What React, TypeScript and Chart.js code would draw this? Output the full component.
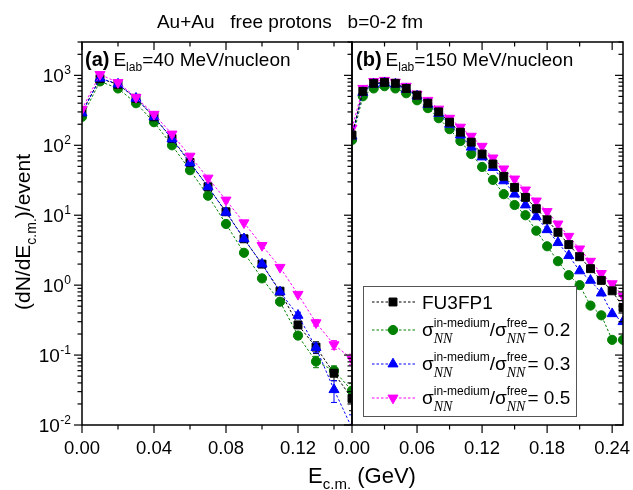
import React, { useEffect, useRef } from 'react';
import { Chart, registerables } from 'chart.js';

Chart.register(...registerables);

const SANS = '"Liberation Sans", Arial, Helvetica, sans-serif';
const SERIF = '"Liberation Serif", "Times New Roman", serif';

// ---------------- data ----------------
const chartTitle = 'Au+Au   free protons   b=0-2 fm';
const seriesLabels = ['FU3FP1', '0.2', '0.3', '0.5'];

// panel (a): E_lab = 40 MeV/nucleon
const energyA = [0.0, 0.01, 0.02, 0.03, 0.04, 0.05, 0.06, 0.07, 0.08, 0.09, 0.1, 0.11, 0.12, 0.13, 0.14, 0.15];
const fu3fp1A = [300, 900, 745, 470, 255, 125, 57, 25.5, 11.2, 4.6, 2.0, 0.82, 0.27, 0.13, 0.055, 0.024];
const ratio02A = [255, 820, 650, 400, 214, 100, 44, 19, 7.5, 2.9, 1.25, 0.58, 0.19, 0.081, 0.06, 0.031];
const ratio03A = [290, 910, 750, 470, 255, 123, 56, 25.5, 11.0, 4.6, 2.0, 0.8, 0.37, 0.128, 0.032, 0.009];
const ratio05A = [328, 1030, 790, 486, 278, 145, 70, 34, 16.5, 7.8, 3.7, 1.8, 0.74, 0.29, 0.141, 0.088];
// statistical error bars (absolute), panel (a)
const fu3fp1ErrA = [0, 0, 0, 0, 0, 0, 0, 0, 0, 0, 0, 0, 0.03, 0.025, 0.012, 0.008];
const ratio02ErrA = [0, 0, 0, 0, 0, 0, 0, 0, 0, 0, 0, 0, 0.02, 0.015, 0.01, 0.008];
const ratio03ErrA = [0, 0, 0, 0, 0, 0, 0, 0, 0, 0, 0, 0, 0.04, 0.02, 0.011, 0.005];
const ratio05ErrA = [0, 0, 0, 0, 0, 0, 0, 0, 0, 0, 0, 0, 0, 0.03, 0.02, 0.015];

// panel (b): E_lab = 150 MeV/nucleon
const energyB = [0.0, 0.01, 0.02, 0.03, 0.04, 0.05, 0.06, 0.07, 0.08, 0.09, 0.1, 0.11, 0.12, 0.13, 0.14, 0.15, 0.16, 0.17, 0.18, 0.19, 0.2, 0.21, 0.22, 0.23, 0.24, 0.25];
const fu3fp1B = [140, 590, 770, 795, 770, 650, 520, 400, 300, 214, 154, 111, 75, 54, 36, 25, 18, 12.4, 8.6, 5.7, 3.8, 2.55, 1.72, 1.17, 0.83, 0.48];
const ratio02B = [119, 502, 650, 700, 650, 555, 440, 340, 244, 170, 115, 75, 49, 32, 20, 14, 10, 6.0, 3.6, 2.2, 1.39, 1.0, 0.51, 0.37, 0.165, 0.165];
const ratio03B = [135, 570, 750, 780, 750, 630, 505, 385, 285, 200, 140, 94, 68, 48, 31, 20, 14, 9.5, 6.2, 4.05, 2.64, 1.6, 1.17, 0.77, 0.39, 0.3];
const ratio05B = [176, 653, 820, 850, 800, 700, 540, 440, 330, 244, 182, 135, 97, 66, 46, 33, 23, 16, 11.3, 7.5, 5.0, 3.3, 2.2, 1.47, 1.05, 0.7];

// axes
const xMaxA = 0.15;
const xMaxB = 0.25;
const yMin = 0.01;
const yMax = 3000;
const xMajorA = [0, 0.04, 0.08, 0.12];
const xLabelsA = ['0.00', '0.04', '0.08', '0.12'];
const xMinorA = [0.02, 0.06, 0.1, 0.14];
const xMajorB = [0, 0.06, 0.12, 0.18, 0.24];
const xLabelsB = ['0.00', '0.06', '0.12', '0.18', '0.24'];
const xMinorB = [0.03, 0.09, 0.15, 0.21];
const yDecades = [-2, -1, 0, 1, 2, 3];
const yExpLabels = ['-2', '-1', '0', '1', '2', '3'];
const yMinorMult = [2, 3, 4, 5, 6, 7, 8, 9];

// ---------------- layout / style ----------------
const W = 633;
const H = 490;
const TOP = 42;
const BOTTOM = 425;
const A_LEFT = 82;
const SPLIT = 352;
const B_RIGHT = 623;

type Sty = { color: string; style: string; r: number; rot: number };
const STY: Sty[] = [
  { color: '#000000', style: 'rect', r: 5.6, rot: 0 },
  { color: '#008000', style: 'circle', r: 4.6, rot: 0 },
  { color: '#0000ff', style: 'triangle', r: 5.8, rot: 0 },
  { color: '#ff00ff', style: 'triangle', r: 5.8, rot: 180 },
];

function line(ctx: CanvasRenderingContext2D, x1: number, y1: number, x2: number, y2: number) {
  ctx.beginPath();
  ctx.moveTo(x1, y1);
  ctx.lineTo(x2, y2);
  ctx.stroke();
}

type Seg = { t: string; font: string; dy?: number } | { sup: { t: string; font: string; dy: number }; sub: { t: string; font: string; dy: number } };

function drawRich(ctx: CanvasRenderingContext2D, x: number, y: number, segs: Seg[], measureOnly = false): number {
  let cx = x;
  for (const s of segs) {
    if ('sup' in s) {
      ctx.font = s.sup.font;
      const w1 = ctx.measureText(s.sup.t).width;
      if (!measureOnly) ctx.fillText(s.sup.t, cx, y + s.sup.dy);
      ctx.font = s.sub.font;
      const w2 = ctx.measureText(s.sub.t).width;
      if (!measureOnly) ctx.fillText(s.sub.t, cx, y + s.sub.dy);
      cx += Math.max(w1, w2);
    } else {
      ctx.font = s.font;
      if (!measureOnly) ctx.fillText(s.t, cx, y + (s.dy || 0));
      cx += ctx.measureText(s.t).width;
    }
  }
  return cx - x;
}

function drawMarker(ctx: CanvasRenderingContext2D, s: Sty, x: number, y: number) {
  ctx.save();
  ctx.setLineDash([]);
  ctx.fillStyle = s.color;
  ctx.strokeStyle = s.color;
  ctx.lineWidth = 1;
  ctx.beginPath();
  if (s.style === 'rect') {
    const h = s.r * Math.SQRT1_2;
    ctx.rect(x - h, y - h, 2 * h, 2 * h);
  } else if (s.style === 'circle') {
    ctx.arc(x, y, s.r, 0, Math.PI * 2);
  } else {
    let a = (s.rot * Math.PI) / 180;
    for (let k = 0; k < 3; k++) {
      const px = x + Math.sin(a) * s.r;
      const py = y - Math.cos(a) * s.r;
      if (k === 0) ctx.moveTo(px, py);
      else ctx.lineTo(px, py);
      a += (2 * Math.PI) / 3;
    }
  }
  ctx.closePath();
  ctx.fill();
  ctx.stroke();
  ctx.restore();
}

function makeDatasets(energies: number[], valueSets: number[][], orders: number[]) {
  return valueSets.map((vals, i) => ({
    label: seriesLabels[i],
    data: energies.map((e, j) => ({ x: e, y: vals[j] })),
    borderColor: STY[i].color,
    backgroundColor: STY[i].color,
    borderWidth: 1,
    borderDash: [2.5, 2],
    pointStyle: STY[i].style,
    pointRadius: STY[i].r,
    pointHoverRadius: STY[i].r,
    pointRotation: STY[i].rot,
    pointBackgroundColor: STY[i].color,
    pointBorderColor: STY[i].color,
    pointBorderWidth: 1,
    showLine: true,
    fill: false,
    tension: 0,
    order: orders[i],
  }));
}

function yTicks(chart: any, side: 'left' | 'right' | 'both') {
  const ctx: CanvasRenderingContext2D = chart.ctx;
  const ys = chart.scales.y;
  const { left, right } = chart.chartArea;
  ctx.lineWidth = 1.2;
  for (const d of yDecades) {
    const vals = [{ v: Math.pow(10, d), len: 8 }].concat(yMinorMult.map((m) => ({ v: m * Math.pow(10, d), len: 4.5 })));
    for (const { v, len } of vals) {
      if (v < yMin * 0.999 || v > yMax * 1.001) continue;
      const py = ys.getPixelForValue(v);
      if (side !== 'right') line(ctx, left, py, left - len, py);
      if (side !== 'left') line(ctx, right, py, right - len, py);
    }
  }
}

function xTicks(chart: any, major: number[], minor: number[], labels: string[]) {
  const ctx: CanvasRenderingContext2D = chart.ctx;
  const xs = chart.scales.x;
  const { top, bottom } = chart.chartArea;
  ctx.lineWidth = 1.2;
  major.forEach((v) => {
    const px = xs.getPixelForValue(v);
    line(ctx, px, bottom, px, bottom + 8);
    line(ctx, px, top, px, top + 8);
  });
  minor.forEach((v) => {
    const px = xs.getPixelForValue(v);
    line(ctx, px, bottom, px, bottom + 4.5);
    line(ctx, px, top, px, top + 4.5);
  });
  ctx.font = `18.5px ${SANS}`;
  ctx.textAlign = 'center';
  ctx.textBaseline = 'alphabetic';
  major.forEach((v, i) => {
    const px = xs.getPixelForValue(v);
    ctx.fillText(labels[i], px, 454);
  });
  ctx.textAlign = 'left';
}

function panelLabel(ctx: CanvasRenderingContext2D, x: number, tag: string, energy: string) {
  ctx.fillStyle = '#000';
  ctx.textAlign = 'left';
  ctx.textBaseline = 'alphabetic';
  ctx.font = `bold 20px ${SANS}`;
  ctx.fillText(tag, x, 66);
  const w = ctx.measureText(tag).width;
  drawRich(ctx, x + w + 4, 66, [
    { t: 'E', font: `19px ${SANS}` },
    { t: 'lab', font: `12px ${SANS}`, dy: 5 },
    { t: `=${energy} MeV/nucleon`, font: `19px ${SANS}` },
  ]);
}

const errSetsA = [fu3fp1ErrA, ratio02ErrA, ratio03ErrA, ratio05ErrA];
const valSetsA = [fu3fp1A, ratio02A, ratio03A, ratio05A];

const errorBarPlugin = {
  id: 'errA',
  beforeDatasetsDraw(chart: any) {
    const ctx: CanvasRenderingContext2D = chart.ctx;
    const xs = chart.scales.x;
    const ys = chart.scales.y;
    const { left, right, top, bottom } = chart.chartArea;
    ctx.save();
    ctx.beginPath();
    ctx.rect(left, top, right - left, bottom - top);
    ctx.clip();
    ctx.setLineDash([]);
    ctx.lineWidth = 1;
    errSetsA.forEach((errs, i) => {
      ctx.strokeStyle = STY[i].color;
      errs.forEach((e, j) => {
        if (!e) return;
        const v = valSetsA[i][j];
        const px = xs.getPixelForValue(energyA[j]);
        const pHi = ys.getPixelForValue(v + e);
        const pLo = ys.getPixelForValue(Math.max(v - e, yMin * 0.5));
        line(ctx, px, pHi, px, pLo);
        line(ctx, px - 3, pHi, px + 3, pHi);
        line(ctx, px - 3, pLo, px + 3, pLo);
      });
    });
    ctx.restore();
  },
};

const pluginA = {
  id: 'panelA',
  afterDraw(chart: any) {
    const ctx: CanvasRenderingContext2D = chart.ctx;
    const { left, right, top, bottom } = chart.chartArea;
    const ys = chart.scales.y;
    ctx.save();
    ctx.strokeStyle = '#000';
    ctx.fillStyle = '#000';
    ctx.setLineDash([]);
    ctx.lineWidth = 1.5;
    ctx.strokeRect(left, top, right - left, bottom - top);
    yTicks(chart, 'both');
    xTicks(chart, xMajorA, xMinorA, xLabelsA);

    // y tick labels 10^n
    yDecades.forEach((d, i) => {
      const py = ys.getPixelForValue(Math.pow(10, d));
      ctx.font = `19px ${SANS}`;
      const w1 = ctx.measureText('10').width;
      ctx.font = `12px ${SANS}`;
      const w2 = ctx.measureText(yExpLabels[i]).width;
      const x0 = 70.5 - w1 - w2;
      ctx.font = `19px ${SANS}`;
      ctx.fillText('10', x0, py + 7);
      ctx.font = `12px ${SANS}`;
      ctx.fillText(yExpLabels[i], x0 + w1 + 0.5, py - 1);
    });

    // title
    ctx.font = `19px ${SANS}`;
    ctx.textAlign = 'center';
    ctx.fillText(chartTitle, 290, 28);
    ctx.textAlign = 'left';

    // y-axis title
    const ySegs: Seg[] = [
      { t: '(dN/dE', font: `21px ${SANS}` },
      { t: 'c.m.', font: `14px ${SANS}`, dy: 6 },
      { t: ')/event', font: `21px ${SANS}` },
    ];
    ctx.save();
    ctx.translate(30, 232);
    ctx.rotate(-Math.PI / 2);
    const tw = drawRich(ctx, 0, 0, ySegs, true);
    drawRich(ctx, -tw / 2, 0, ySegs);
    ctx.restore();

    // x-axis title
    const xSegs: Seg[] = [
      { t: 'E', font: `22px ${SANS}` },
      { t: 'c.m.', font: `15px ${SANS}`, dy: 6 },
      { t: ' (GeV)', font: `22px ${SANS}` },
    ];
    const xw = drawRich(ctx, 0, 0, xSegs, true);
    drawRich(ctx, 362 - xw / 2, 483, xSegs);

    panelLabel(ctx, 85, '(a)', '40');
    ctx.restore();
  },
};

const legendRows = [302, 330, 364, 398];
const ratioLabels = ['', '0.2', '0.3', '0.5'];

const pluginB = {
  id: 'panelB',
  afterDraw(chart: any) {
    const ctx: CanvasRenderingContext2D = chart.ctx;
    const { left, right, top, bottom } = chart.chartArea;
    ctx.save();
    ctx.strokeStyle = '#000';
    ctx.fillStyle = '#000';
    ctx.setLineDash([]);
    ctx.lineWidth = 1.5;
    ctx.strokeRect(left, top, right - left, bottom - top);
    yTicks(chart, 'right');
    xTicks(chart, xMajorB, xMinorB, xLabelsB);
    panelLabel(ctx, 356, '(b)', '150');

    // legend
    const lx = 363, ly = 286, lw = 213, lh = 130;
    ctx.fillStyle = '#fff';
    ctx.fillRect(lx, ly, lw, lh);
    ctx.strokeStyle = '#555';
    ctx.lineWidth = 1;
    ctx.strokeRect(lx + 0.5, ly + 0.5, lw, lh);
    legendRows.forEach((ry, i) => {
      const s = STY[i];
      ctx.strokeStyle = s.color;
      ctx.lineWidth = 1;
      ctx.setLineDash([2.5, 2]);
      line(ctx, 372, ry, 416, ry);
      ctx.setLineDash([]);
      drawMarker(ctx, s, 393, ry);
      ctx.fillStyle = '#000';
      if (i === 0) {
        ctx.font = `19px ${SANS}`;
        ctx.fillText(seriesLabels[0], 422, ry + 7);
      } else {
        const supF = `12px ${SANS}`;
        const subF = `italic 14px ${SERIF}`;
        drawRich(ctx, 422, ry + 6, [
          { t: 'σ', font: `19px ${SANS}` },
          { sup: { t: 'in-medium', font: supF, dy: -9 }, sub: { t: 'NN', font: subF, dy: 7 } },
          { t: '/σ', font: `19px ${SANS}` },
          { sup: { t: 'free', font: supF, dy: -9 }, sub: { t: 'NN', font: subF, dy: 7 } },
          { t: `= ${ratioLabels[i]}`, font: `19px ${SANS}` },
        ]);
      }
    });
    ctx.restore();
  },
};

function buildChart(canvas: HTMLCanvasElement, which: 'A' | 'B') {
  const isA = which === 'A';
  const datasets = isA
    ? makeDatasets(energyA, valSetsA, [2, 3, 1, 0])
    : makeDatasets(energyB, [fu3fp1B, ratio02B, ratio03B, ratio05B], [0, 3, 1, 2]);
  return new Chart(canvas, {
    type: 'line',
    data: { datasets: datasets as any },
    options: {
      animation: false,
      responsive: false,
      maintainAspectRatio: false,
      events: [],
      layout: {
        padding: isA
          ? { left: A_LEFT, top: TOP, right: W - SPLIT, bottom: H - BOTTOM }
          : { left: SPLIT, top: TOP, right: W - B_RIGHT, bottom: H - BOTTOM },
      },
      scales: {
        x: { type: 'linear', min: 0, max: isA ? xMaxA : xMaxB, display: false },
        y: { type: 'logarithmic', min: yMin, max: yMax, display: false },
      },
      plugins: {
        legend: { display: false },
        tooltip: { enabled: false },
        title: { display: false },
      },
    },
    plugins: isA ? [errorBarPlugin, pluginA] : [pluginB],
  } as any);
}

export default function App() {
  const refA = useRef<HTMLCanvasElement>(null);
  const refB = useRef<HTMLCanvasElement>(null);
  useEffect(() => {
    const a = buildChart(refA.current as HTMLCanvasElement, 'A');
    const b = buildChart(refB.current as HTMLCanvasElement, 'B');
    return () => {
      a.destroy();
      b.destroy();
    };
  }, []);
  const cs: React.CSSProperties = { position: 'absolute', left: 0, top: 0, width: W, height: H };
  return (
    <div style={{ position: 'absolute', left: 0, top: 0, width: W, height: H, background: '#fff' }}>
      <canvas ref={refA} width={W} height={H} style={cs} />
      <canvas ref={refB} width={W} height={H} style={cs} />
    </div>
  );
}
